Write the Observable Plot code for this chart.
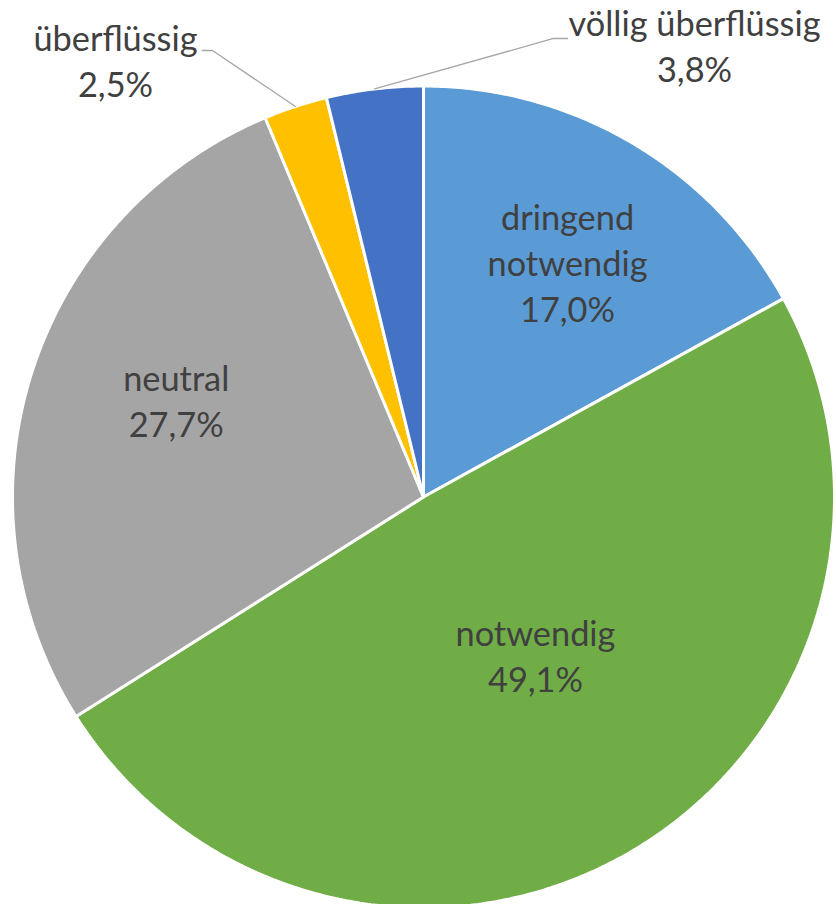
<!DOCTYPE html>
<html>
<head>
<meta charset="utf-8">
<script src="https://cdn.jsdelivr.net/npm/d3@7"></script>
<script src="https://cdn.jsdelivr.net/npm/@observablehq/plot@0.6"></script>
<style>
  html, body { margin: 0; padding: 0; background: #ffffff; }
  #chart svg { display: block; overflow: visible; }
</style>
</head>
<body>
<div id="chart"></div>
<script>
// ---- data ----
const categories = ["dringend notwendig", "notwendig", "neutral", "überflüssig", "völlig überflüssig"];
const labelLines = [["dringend", "notwendig"], ["notwendig"], ["neutral"], ["überflüssig"], ["völlig überflüssig"]];
const values = [17.0, 49.1, 27.7, 2.5, 3.8];
const percentLabels = ["17,0%", "49,1%", "27,7%", "2,5%", "3,8%"];
const colors = ["#5B9BD5", "#70AD47", "#A5A5A5", "#FFC000", "#4472C4"];

// ---- layout (pie radius = 1 data unit) ----
const W = 836, H = 904;
const R = 411;            // pixels per data unit
const cx = 423, cy = 496.5;
const xDomain = [-cx / R, (W - cx) / R];
const yDomain = [-(H - cy) / R, cy / R];

// label anchors in data units (x = centre, y = baseline of last line)
const labelAnchor = {
  "dringend notwendig": [0.3504, 0.4270],
  "notwendig": [0.2725, -0.4749],
  "neutral": [-0.6017, 0.1455],
  "überflüssig": [-0.7494, 0.9727],
  "völlig überflüssig": [0.6594, 1.0109]
};
// leader lines (elbow, end) for outside labels
const leader = {
  "überflüssig": [[-0.5134, 1.0864], [-0.5384, 1.0864]],
  "völlig überflüssig": [[0.3163, 1.1156], [0.3504, 1.1156]]
};

const rows = categories.map((c, i) => ({category: c, value: values[i], i}));
const arcs = d3.pie().sort(null).value(d => d.value).startAngle(0).endAngle(2 * Math.PI)(rows);

const pt = (a, r) => ({x: r * Math.sin(a), y: r * Math.cos(a)});

const polys = [];
for (const a of arcs) {
  const cat = a.data.category;
  polys.push({category: cat, x: 0, y: 0});
  const n = Math.max(2, Math.ceil((a.endAngle - a.startAngle) / (Math.PI / 360)));
  for (let k = 0; k <= n; k++) {
    const ang = a.startAngle + (a.endAngle - a.startAngle) * k / n;
    polys.push({category: cat, ...pt(ang, 1)});
  }
}

const leaderPts = [];
for (const a of arcs) {
  const cat = a.data.category;
  if (!leader[cat]) continue;
  const mid = (a.startAngle + a.endAngle) / 2;
  leaderPts.push({category: cat, ...pt(mid, 1.0)});
  for (const [x, y] of leader[cat]) leaderPts.push({category: cat, x, y});
}

const labels = rows.map(r => ({
  category: r.category,
  text: labelLines[r.i].join("\n") + "\n" + percentLabels[r.i],
  x: labelAnchor[r.category][0],
  y: labelAnchor[r.category][1]
}));

// font size fitted so that "notwendig" is ~160px wide
const fontFamily = "Lato";
const ctx = document.createElement("canvas").getContext("2d");
ctx.font = `100px ${fontFamily}`;
const fontSize = 100 * 160 / ctx.measureText("notwendig").width;

const chart = Plot.plot({
  width: W,
  height: H,
  margin: 0,
  x: {domain: xDomain, axis: null},
  y: {domain: yDomain, axis: null},
  color: {domain: categories, range: colors},
  style: {background: "#ffffff", overflow: "visible"},
  marks: [
    Plot.line(polys, {x: "x", y: "y", z: "category", fill: "category", stroke: "#ffffff",
      strokeWidth: 3, strokeLinejoin: "miter", curve: "linear-closed"}),
    Plot.line(leaderPts, {x: "x", y: "y", z: "category", stroke: "#A6A6A6", strokeWidth: 1.3,
      strokeLinejoin: "miter"}),
    Plot.text(labels, {x: "x", y: "y", text: "text", lineAnchor: "bottom", textAnchor: "middle",
      lineHeight: 46 / fontSize, fontSize, fontFamily, fill: "#404040"})
  ]
});
document.getElementById("chart").appendChild(chart);
</script>
</body>
</html>
